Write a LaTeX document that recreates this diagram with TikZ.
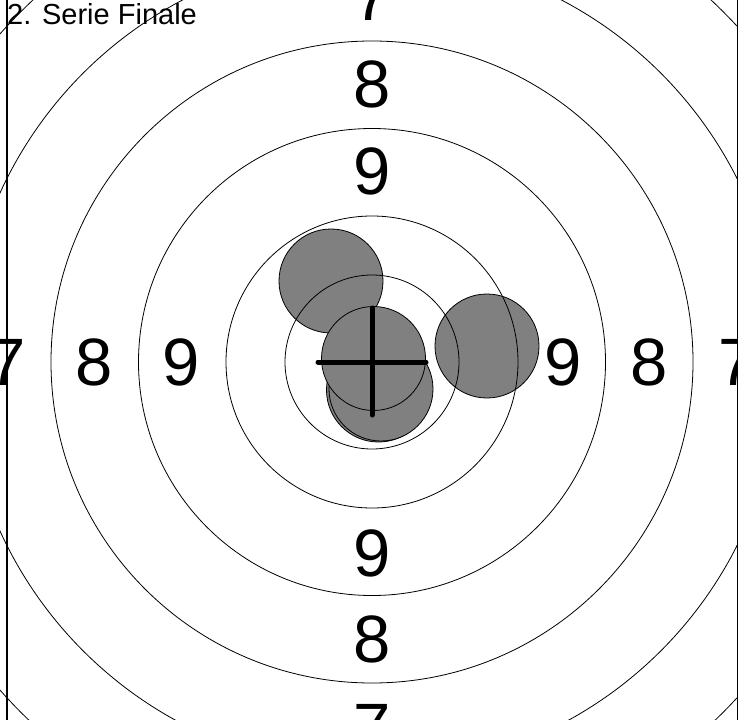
\documentclass[tikz,border=0pt]{standalone}
\usepackage{fontspec}
\setmainfont{Liberation Sans}
\begin{document}
\begin{tikzpicture}[x=1pt, y=-1pt]
        \tikzstyle{anel} = [draw, line width=0.8pt]
        \tikzstyle{tiro} = [fill=black!50, draw=black, line width=0.8pt]
        \tikzstyle{numero} = [inner sep=0pt, font=\fontsize{67}{67}\selectfont]
        \tikzstyle{mira} = [line width=5pt, line cap=round]

        \useasboundingbox (0,0) rectangle (745,720);

        \begin{scope}
            \clip (0,0) rectangle (737,720);
            \coordinate (centro) at (372,362);

            % tiros
            \foreach \x/\y in {331/281, 378.5/390, 381/389, 487/346, 373.5/358.5} {
                \draw[tiro] (\x,\y) circle (52pt);
            }

            % aneis
            \foreach \r in {87,146,233.5,321,408.5,496} {
                \draw[anel] (centro) circle (\r pt);
            }

            % numeros
            \foreach \v/\r in {9/191, 8/277.5, 7/365} {
                \node[numero] (cima\v) at (372, {362-\r}) {\v};
                \node[numero] (baixo\v) at (372, {362+\r}) {\v};
                \node[numero] (esq\v) at ({372-\r}, 362) {\v};
                \node[numero] (dir\v) at ({372+\r}, 362) {\v};
            }

            % mira
            \draw[mira] ([xshift=-54pt]centro) -- ([xshift=54pt]centro);
            \draw[mira] ([yshift=54pt]centro) -- ([yshift=-53pt]centro);
        \end{scope}

        \draw[line width=1.4pt] (7,0) -- (7,720);
        \draw[line width=1.4pt] (737.5,0) -- (737.5,720);

        \node[anchor=base west, inner sep=0pt, font=\fontsize{29}{29}\selectfont] (titulo) at (7,24) {2. Serie Finale};
\end{tikzpicture}
\end{document}
